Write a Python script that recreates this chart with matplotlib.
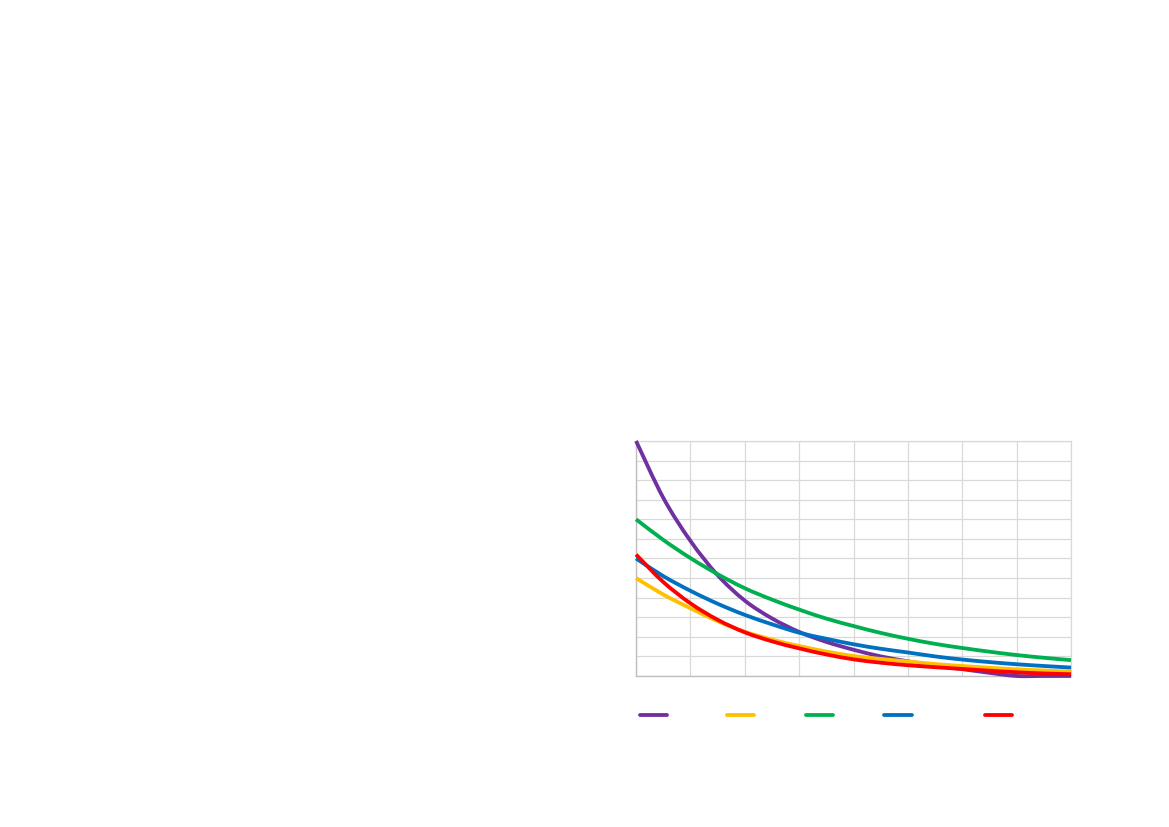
import matplotlib
matplotlib.use("Agg")
import matplotlib.pyplot as plt
import numpy as np
from matplotlib.path import Path
from matplotlib.patches import PathPatch

# values (grid units), x in steps of 0.5
x = np.arange(0, 8.01, 0.5)

purple = [12.0, 9.1, 6.9, 5.15, 3.85, 2.94, 2.25, 1.74, 1.34, 1.0, 0.75, 0.52, 0.35, 0.16, 0.0, 0.0, 0.0]
yellow = [5.0, 4.16, 3.46, 2.8, 2.26, 1.86, 1.53, 1.25, 1.02, 0.87, 0.74, 0.61, 0.51, 0.42, 0.34, 0.28, 0.22]
green = [8.0, 6.95, 6.02, 5.2, 4.48, 3.9, 3.39, 2.93, 2.55, 2.2, 1.9, 1.64, 1.43, 1.24, 1.07, 0.93, 0.81]
blue = [6.0, 5.1, 4.35, 3.69, 3.12, 2.64, 2.21, 1.9, 1.62, 1.39, 1.2, 1.0, 0.84, 0.71, 0.6, 0.51, 0.43]
red = [6.2, 4.8, 3.71, 2.87, 2.23, 1.77, 1.41, 1.1, 0.85, 0.68, 0.55, 0.45, 0.36, 0.27, 0.19, 0.13, 0.09]

series = [purple, yellow, green, blue, red]
colors = ["#7030A0", "#FFC000", "#00B050", "#0070C0", "#FF0000"]
# legend texts are not visible in the reference; blank labels keep the spacing
labels = [" " * 9, " " * 7, " " * 7, " " * 12, " " * 6]

LW = 2.75


def smooth_path(xs, ys):
	# Excel-style smoothed line: cubic Bezier segments through every point
	pts = np.column_stack([xs, ys]).astype(float)
	n = len(pts)
	verts = [pts[0]]
	codes = [Path.MOVETO]
	for i in range(n - 1):
		p0 = pts[max(i - 1, 0)]
		p1 = pts[i]
		p2 = pts[i + 1]
		p3 = pts[min(i + 2, n - 1)]
		c1 = p1 + (p2 - p0) / 6
		c2 = p2 - (p3 - p1) / 6
		verts += [c1, c2, p2]
		codes += [Path.CURVE4] * 3
	return Path(verts, codes)


fig = plt.figure(figsize=(11.69, 8.27), dpi=100)
ax = fig.add_axes([0.5441, 0.1826, 0.3721, 0.2842])

for vals, col, lab in zip(series, colors, labels):
	patch = PathPatch(smooth_path(x, vals), facecolor="none", edgecolor=col, lw=LW,
		capstyle="butt", joinstyle="round", clip_on=False, zorder=3)
	ax.add_patch(patch)
	ax.plot([], [], color=col, lw=LW, label=lab, solid_capstyle="round")

ax.set_xlim(0, 8)
ax.set_ylim(0, 12)
ax.set_xticks(np.arange(0, 9, 1))
ax.set_yticks(np.arange(0, 13, 1))
ax.tick_params(length=0, labelbottom=False, labelleft=False)
ax.grid(color="#d9d9d9", lw=0.9)
ax.set_axisbelow(True)
for side in ["top", "right"]:
	ax.spines[side].set_color("#d9d9d9")
	ax.spines[side].set_linewidth(0.9)
for side in ["left", "bottom"]:
	ax.spines[side].set_color("#bfbfbf")
	ax.spines[side].set_linewidth(1.0)

ax.legend(
	loc="center left",
	bbox_to_anchor=(0.0092, -0.170),
	ncol=5,
	frameon=False,
	borderaxespad=0,
	borderpad=0,
	handlelength=1.95,
	handletextpad=0.5,
	columnspacing=1.0,
	fontsize=10,
)

fig.savefig("out.png", dpi=100)
